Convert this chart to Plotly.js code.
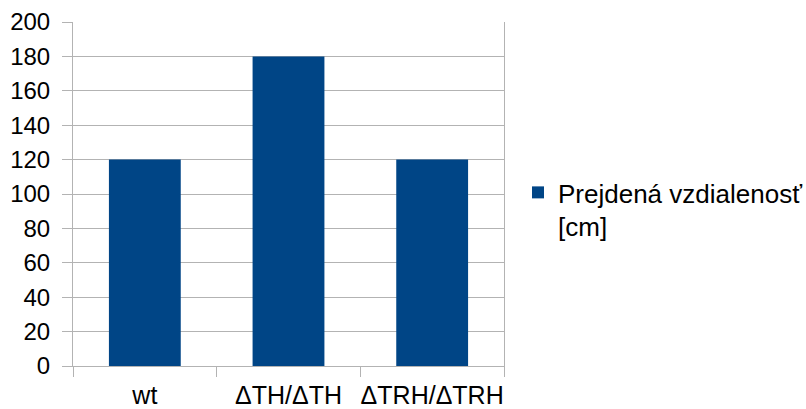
<!DOCTYPE html>
<html><head><meta charset="utf-8">
<script src="https://cdn.plot.ly/plotly-3.0.1.min.js"></script>
<style>html,body{margin:0;padding:0;background:#fff}#chart{width:806px;height:409px}</style>
</head><body><div id="chart"></div>
<script>
const categories = ["wt", "ΔTH/ΔTH", "ΔTRH/ΔTRH"];
const distance = [120, 180, 120];
const seriesName = "Prejdená vzdialenosť<br>[cm]";
const yTicks = [0, 20, 40, 60, 80, 100, 120, 140, 160, 180, 200];

const font = {family: "Liberation Sans, Arial, sans-serif", size: 24, color: "#000"};
const xFont = {family: "Liberation Sans, Arial, sans-serif", size: 25, color: "#000"};
const legendFont = {family: "Liberation Sans, Arial, sans-serif", size: 26, color: "#000"};
const gridColor = "#b3b3b3";

Plotly.newPlot("chart", [{
  type: "bar",
  x: categories,
  y: distance,
  name: seriesName,
  marker: {color: "#004586"},
  width: 0.5,
  showlegend: true
}], {
  width: 806, height: 409,
  margin: {l: 73, r: 302, t: 22, b: 43, autoexpand: false},
  paper_bgcolor: "#fff", plot_bgcolor: "#fff",
  font: font,
  showlegend: true,
  legend: {x: 1.0325, xanchor: "left", y: 0.455, yanchor: "middle", valign: "top", font: legendFont, itemwidth: 30},
  xaxis: {
    type: "category", tickson: "boundaries", ticks: "outside", ticklen: 10, tickcolor: gridColor,
    showgrid: false, showline: true, linecolor: gridColor, tickfont: xFont, zeroline: false,
    tickangle: 0, ticklabelstandoff: 7, automargin: false
  },
  yaxis: {
    range: [0, 200], tickvals: yTicks, ticks: "outside", ticklen: 10, tickcolor: gridColor,
    showgrid: true, gridcolor: gridColor, showline: true, linecolor: gridColor, mirror: true,
    zeroline: false, tickfont: font, ticklabelstandoff: 7, automargin: false
  },
  bargap: 0.5
}, {staticPlot: true});
</script></body></html>
